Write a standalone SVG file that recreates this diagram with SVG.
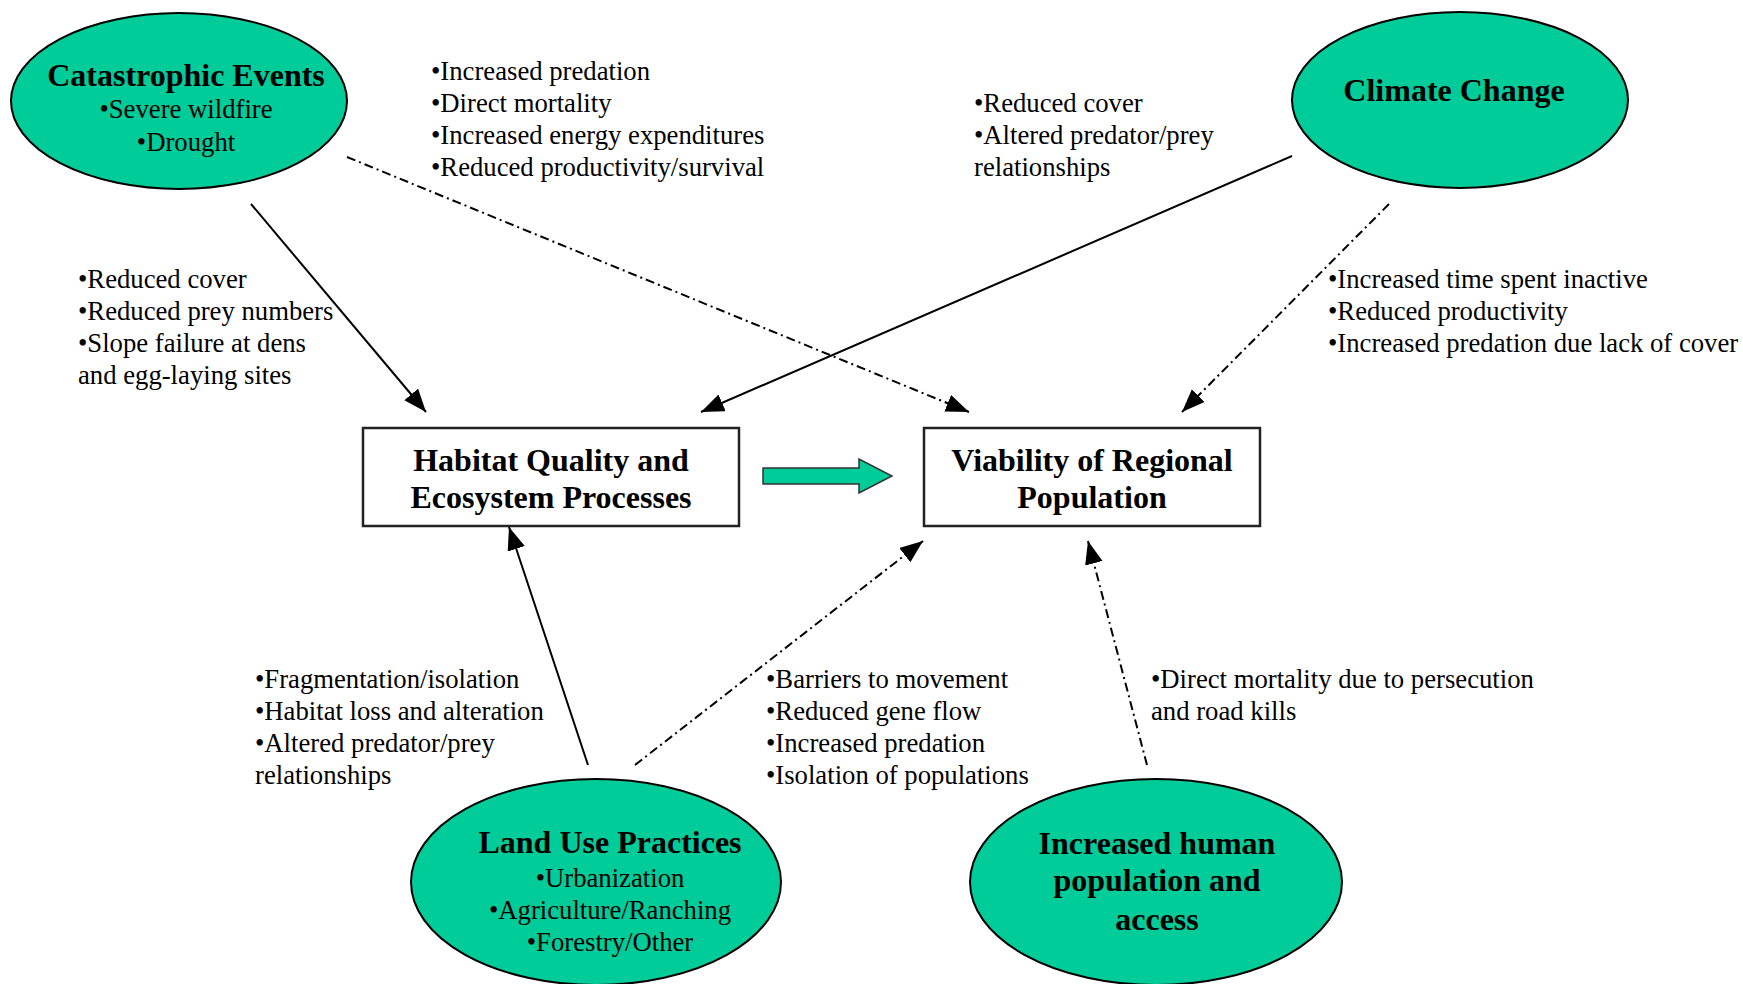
<svg xmlns="http://www.w3.org/2000/svg" width="1743" height="984" viewBox="0 0 1743 984">
<style>
.t{font-family:"Liberation Serif","Times New Roman",serif;font-size:26.7px;fill:#000}
.b{font-family:"Liberation Serif","Times New Roman",serif;font-size:32px;font-weight:bold;fill:#000}
.c{text-anchor:middle}
.ell{fill:#00CC99;stroke:#000;stroke-width:2}
.box{fill:#fff;stroke:#222;stroke-width:2.5}
.ln{fill:none;stroke:#000;stroke-width:2;marker-end:url(#ah)}
.dd{stroke-dasharray:9 4 2 4}
</style>
<defs>
<marker id="ah" markerUnits="userSpaceOnUse" markerWidth="26" markerHeight="20" refX="23" refY="9" orient="auto">
<path d="M0,0 L23,9 L0,18 Z" fill="#000"/>
</marker>
</defs>
<rect width="1743" height="984" fill="#fff"/>

<g id="catastrophic">
<ellipse class="ell" cx="179" cy="101" rx="168" ry="88"/>
<text class="b c" x="186" y="86">Catastrophic Events</text>
<text class="t c" x="186" y="118">•Severe wildfire</text>
<text class="t c" x="186" y="151">•Drought</text>
</g>

<g id="climate">
<ellipse class="ell" cx="1460" cy="100" rx="168" ry="88"/>
<text class="b c" x="1454" y="101">Climate Change</text>
</g>

<g id="habitat">
<rect class="box" x="363" y="428" width="376" height="98"/>
<text class="b c" x="551" y="471">Habitat Quality and</text>
<text class="b c" x="551" y="508">Ecosystem Processes</text>
</g>

<g id="viability">
<rect class="box" x="924" y="428" width="336" height="98"/>
<text class="b c" x="1092" y="471">Viability of Regional</text>
<text class="b c" x="1092" y="508">Population</text>
</g>

<g id="landuse">
<ellipse class="ell" cx="596" cy="882" rx="185" ry="103"/>
<text class="b c" x="610" y="853">Land Use Practices</text>
<text class="t c" x="610" y="887">•Urbanization</text>
<text class="t c" x="610" y="919">•Agriculture/Ranching</text>
<text class="t c" x="610" y="951">•Forestry/Other</text>
</g>

<g id="human">
<ellipse class="ell" cx="1156" cy="882" rx="186" ry="103"/>
<text class="b c" x="1157" y="854">Increased human</text>
<text class="b c" x="1157" y="891">population and</text>
<text class="b c" x="1157" y="930">access</text>
</g>

<g id="connectors">
<line class="ln" x1="251" y1="204" x2="426" y2="412"/>
<line class="ln dd" x1="347" y1="157" x2="969" y2="412"/>
<line class="ln" x1="1292" y1="156" x2="701" y2="412"/>
<line class="ln dd" x1="1389" y1="204" x2="1182" y2="412"/>
<line class="ln" x1="588" y1="765" x2="509" y2="527"/>
<line class="ln dd" x1="635" y1="765" x2="923" y2="541"/>
<line class="ln dd" x1="1147" y1="765" x2="1088" y2="541"/>
<polygon points="763,468 859,468 859,459 892,476 859,493 859,484 763,484" fill="#00CC99" stroke="#333" stroke-width="1.5"/>
</g>

<g id="labels">
<text class="t" x="431" y="80">•Increased predation</text>
<text class="t" x="431" y="112">•Direct mortality</text>
<text class="t" x="431" y="144">•Increased energy expenditures</text>
<text class="t" x="431" y="176">•Reduced productivity/survival</text>

<text class="t" x="974" y="112">•Reduced cover</text>
<text class="t" x="974" y="144">•Altered predator/prey</text>
<text class="t" x="974" y="176">relationships</text>

<text class="t" x="78" y="288">•Reduced cover</text>
<text class="t" x="78" y="320">•Reduced prey numbers</text>
<text class="t" x="78" y="352">•Slope failure at dens</text>
<text class="t" x="78" y="384">and egg-laying sites</text>

<text class="t" x="1328" y="288">•Increased time spent inactive</text>
<text class="t" x="1328" y="320">•Reduced productivity</text>
<text class="t" x="1328" y="352">•Increased predation due lack of cover</text>

<text class="t" x="255" y="688">•Fragmentation/isolation</text>
<text class="t" x="255" y="720">•Habitat loss and alteration</text>
<text class="t" x="255" y="752">•Altered predator/prey</text>
<text class="t" x="255" y="784">relationships</text>

<text class="t" x="766" y="688">•Barriers to movement</text>
<text class="t" x="766" y="720">•Reduced gene flow</text>
<text class="t" x="766" y="752">•Increased predation</text>
<text class="t" x="766" y="784">•Isolation of populations</text>

<text class="t" x="1151" y="688">•Direct mortality due to persecution</text>
<text class="t" x="1151" y="720">and road kills</text>
</g>
</svg>
